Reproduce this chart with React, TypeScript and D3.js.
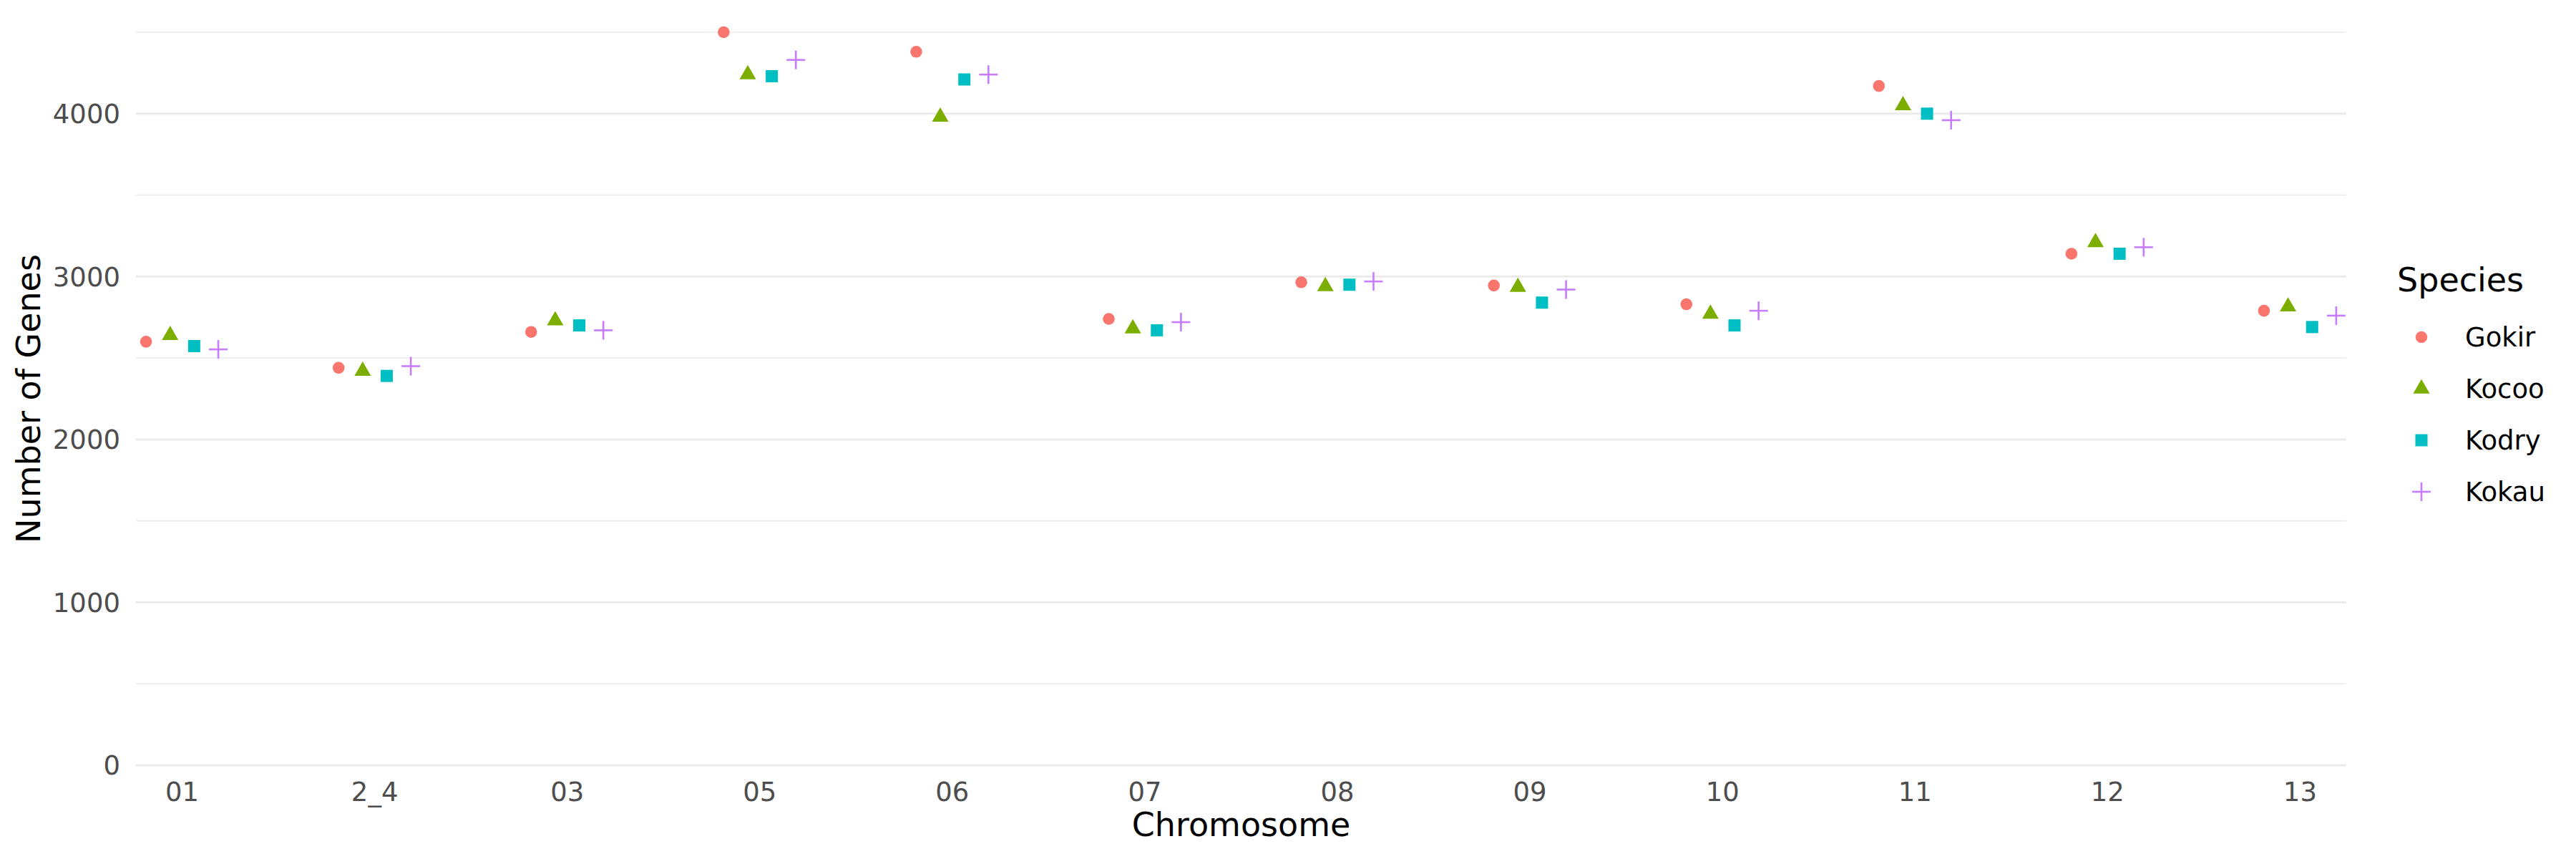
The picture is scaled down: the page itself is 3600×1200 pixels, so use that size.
import React from "react";
import { scaleLinear, scalePoint, symbol, symbolTriangle } from "d3";

const WIDTH = 3600;
const HEIGHT = 1200;
const LEFT = 190;
const RIGHT = 3279;
const TOP = 45;
const BOTTOM = 1069;
const FONT = "DejaVu Sans, sans-serif";

const chromosomes = ["01", "2_4", "03", "05", "06", "07", "08", "09", "10", "11", "12", "13"];
const species = ["Gokir", "Kocoo", "Kodry", "Kokau"];
const colors = ["#F8766D", "#7CAE00", "#00BFC4", "#C77CFF"];

const gokir = [2600, 2440, 2660, 4500, 4380, 2740, 2965, 2945, 2830, 4170, 3140, 2790];
const kocoo = [2640, 2420, 2730, 4240, 3980, 2680, 2940, 2935, 2770, 4050, 3210, 2815];
const kodry = [2573, 2390, 2700, 4230, 4210, 2670, 2950, 2840, 2700, 4000, 3140, 2690];
const kokau = [2553, 2450, 2670, 4330, 4240, 2720, 2970, 2920, 2790, 3960, 3180, 2760];
const seriesValues = [gokir, kocoo, kodry, kokau];

const majorTicks = [0, 1000, 2000, 3000, 4000];
const minorTicks = [500, 1500, 2500, 3500, 4500];

const x = scalePoint<string>().domain(chromosomes).range([LEFT, RIGHT]).padding(0.24);
const y = scaleLinear().domain([0, 4500]).range([BOTTOM, TOP]);
const dodge = scaleLinear().domain([0, 3]).range([-0.1875, 0.1875]);

const triPath = symbol().type(symbolTriangle).size(230)() || "";

const Marker = ({ kind, cx, cy }: { kind: number; cx: number; cy: number }) => {
  const c = colors[kind];
  if (kind === 0) return <circle cx={cx} cy={cy} r={8.3} fill={c} />;
  if (kind === 1) return <path d={triPath} transform={`translate(${cx},${cy})`} fill={c} />;
  if (kind === 2) return <rect x={cx - 8.5} y={cy - 8.5} width={17} height={17} fill={c} />;
  return (
    <g stroke={c} strokeWidth={2.6}>
      <line x1={cx - 13} x2={cx + 13} y1={cy} y2={cy} />
      <line x1={cx} x2={cx} y1={cy - 13} y2={cy + 13} />
    </g>
  );
};

export default function App() {
  const step = x.step();
  return (
    <svg
      width={WIDTH}
      height={HEIGHT}
      style={{ display: "block", background: "#fff", position: "absolute", left: 0, top: 0 }}
      fontFamily={FONT}
    >
      {minorTicks.map(t => (
        <line key={"m" + t} x1={LEFT} x2={RIGHT} y1={y(t)} y2={y(t)} stroke="#EBEBEB" strokeWidth={1.5} />
      ))}
      {majorTicks.map(t => (
        <g key={"M" + t}>
          <line x1={LEFT} x2={RIGHT} y1={y(t)} y2={y(t)} stroke="#EBEBEB" strokeWidth={3} />
          <text x={LEFT - 22} y={y(t)} dy="0.36em" textAnchor="end" fontSize={37} fill="#4D4D4D">
            {t}
          </text>
        </g>
      ))}
      {chromosomes.map(ch => (
        <text key={ch} x={x(ch)} y={1119} textAnchor="middle" fontSize={37} fill="#4D4D4D">
          {ch}
        </text>
      ))}
      {seriesValues.map((vals, si) =>
        vals.map((v, ci) => (
          <Marker key={si + "-" + ci} kind={si} cx={(x(chromosomes[ci]) || 0) + dodge(si) * step} cy={y(v)} />
        ))
      )}
      <text x={(LEFT + RIGHT) / 2} y={1168} textAnchor="middle" fontSize={46} fill="#000">
        Chromosome
      </text>
      <text
        transform={`translate(56,${(TOP + BOTTOM) / 2}) rotate(-90)`}
        textAnchor="middle"
        fontSize={46}
        fill="#000"
      >
        Number of Genes
      </text>
      <text x={3350} y={407} fontSize={46} fill="#000">
        Species
      </text>
      {species.map((s, i) => {
        const cy = 471 + i * 72;
        return (
          <g key={s}>
            <Marker kind={i} cx={3384} cy={cy} />
            <text x={3445} y={cy} dy="0.36em" fontSize={37} fill="#000">
              {s}
            </text>
          </g>
        );
      })}
    </svg>
  );
}
